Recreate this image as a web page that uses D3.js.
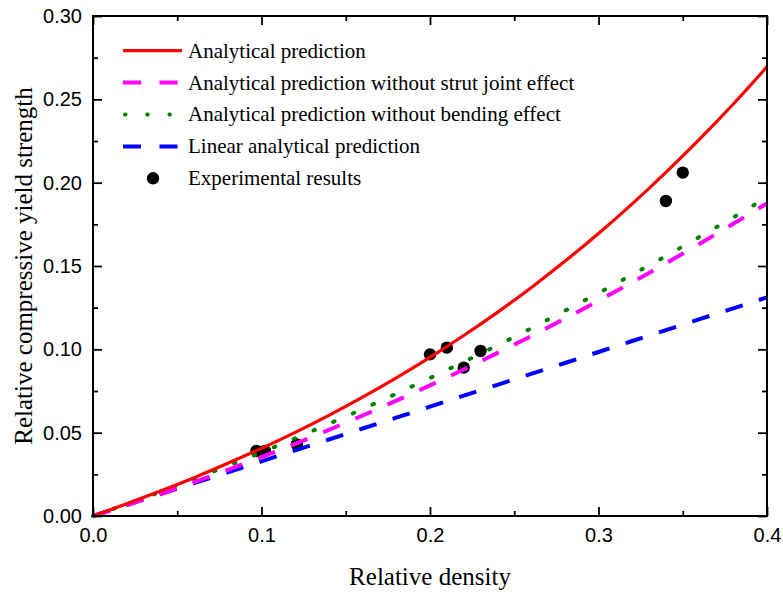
<!DOCTYPE html>
<html>
<head>
<meta charset="utf-8">
<script src="https://cdn.jsdelivr.net/npm/d3@7"></script>
<style>
  body { margin: 0; background: #fff; }
  svg { display: block; }
</style>
</head>
<body>
<svg id="chart" width="783" height="595"></svg>
<script>
// relative density sampled along each curve
const densities = [0, 0.02, 0.04, 0.06, 0.08, 0.10, 0.12, 0.14, 0.16, 0.18, 0.20,
                   0.22, 0.24, 0.26, 0.28, 0.30, 0.32, 0.34, 0.36, 0.38, 0.40];

const analytical = [0, 0.0073, 0.0150, 0.0230, 0.0316, 0.0406, 0.0502, 0.0604, 0.0713, 0.0829, 0.0952,
                    0.1083, 0.1222, 0.1370, 0.1528, 0.1695, 0.1873, 0.2062, 0.2261, 0.2472, 0.2696];
const noJoint = [0, 0.0065, 0.0132, 0.0203, 0.0277, 0.0354, 0.0433, 0.0517, 0.0603, 0.0692, 0.0784,
                 0.0879, 0.0978, 0.1079, 0.1184, 0.1292, 0.1402, 0.1516, 0.1633, 0.1753, 0.1876];
const noBending = [0, 0.0071, 0.0145, 0.0222, 0.0301, 0.0382, 0.0466, 0.0553, 0.0642, 0.0734, 0.0828,
                   0.0925, 0.1024, 0.1126, 0.1231, 0.1338, 0.1448, 0.1560, 0.1675, 0.1792, 0.1912];
const linear = [0, 0.0066, 0.0131, 0.0197, 0.0262, 0.0328, 0.0394, 0.0459, 0.0525, 0.0590, 0.0656,
                0.0722, 0.0787, 0.0853, 0.0918, 0.0984, 0.1050, 0.1115, 0.1181, 0.1246, 0.1312];

// experimental points
const expDensity = [0.097, 0.102, 0.121, 0.200, 0.210, 0.220, 0.230, 0.340, 0.350];
const expStrength = [0.039, 0.039, 0.043, 0.097, 0.101, 0.089, 0.099, 0.189, 0.206];

const xTicks = [0, 0.1, 0.2, 0.3, 0.4];
const yTicks = [0, 0.05, 0.10, 0.15, 0.20, 0.25, 0.30];

const seriesNames = ["Analytical prediction",
                     "Analytical prediction without strut joint effect",
                     "Analytical prediction without bending effect",
                     "Linear analytical prediction",
                     "Experimental results"];

const plotLeft = 93, plotRight = 767, plotTop = 16, plotBottom = 516;

const svg = d3.select("#chart");

let x = d3.scaleLinear().domain([0, 0.4]).range([plotLeft, plotRight]);
let y = d3.scaleLinear().domain([0, 0.3]).range([plotBottom, plotTop]);

const sansFont = "'Liberation Sans', Arial, sans-serif";
const serifFont = "'Liberation Serif', 'Times New Roman', serif";

// line styles, in the order of the legend
const styles = [
  {data: analytical, color: "#ff0000", dash: null, width: 3.2, cap: "butt"},
  {data: noJoint, color: "#ff00ff", dash: "18,17", width: 4, cap: "butt"},
  {data: noBending, color: "#008000", dash: "1.5,20", width: 4, cap: "round"},
  {data: linear, color: "#0000ff", dash: "18,17", width: 4, cap: "butt"}
];

// experimental dots go underneath the curves
svg.append("g").selectAll("circle")
  .data(expDensity).enter()
  .append("circle")
    .attr("cx", d => x(d))
    .attr("cy", (d, i) => y(expStrength[i]))
    .attr("r", 6.2)
    .attr("fill", "black");

let line = d3.line()
  .x((d, i) => x(densities[i]))
  .y(d => y(d))
  .curve(d3.curveMonotoneX);

// draw blue first so the red curve ends up on top
[3, 2, 1, 0].forEach(k => {
  let s = styles[k];
  svg.append("path")
    .datum(s.data)
    .attr("d", line)
    .attr("fill", "none")
    .attr("stroke", s.color)
    .attr("stroke-width", s.width)
    .attr("stroke-linecap", s.cap)
    .attr("stroke-dasharray", s.dash);
});

// axes: major and minor ticks, all pointing inward
function styleAxis(g) {
  g.select(".domain").remove();
  g.selectAll(".tick line").attr("stroke", "black").attr("stroke-width", 1.8);
  g.selectAll("text")
    .attr("font-family", sansFont)
    .attr("font-size", 20)
    .attr("fill", "black");
}

let minorX = d3.range(0.05, 0.4, 0.1);
let minorY = d3.range(0.025, 0.3, 0.05);

svg.append("g").attr("transform", `translate(0,${plotBottom})`)
  .call(d3.axisBottom(x).tickValues(xTicks).tickFormat(d3.format(".1f"))
    .tickSize(-9).tickSizeOuter(0).tickPadding(12))
  .call(styleAxis);
svg.append("g").attr("transform", `translate(0,${plotBottom})`)
  .call(d3.axisBottom(x).tickValues(minorX).tickFormat("").tickSize(-5).tickSizeOuter(0))
  .call(styleAxis);
svg.append("g").attr("transform", `translate(0,${plotTop})`)
  .call(d3.axisTop(x).tickValues(xTicks).tickFormat("").tickSize(-9).tickSizeOuter(0))
  .call(styleAxis);
svg.append("g").attr("transform", `translate(0,${plotTop})`)
  .call(d3.axisTop(x).tickValues(minorX).tickFormat("").tickSize(-5).tickSizeOuter(0))
  .call(styleAxis);

svg.append("g").attr("transform", `translate(${plotLeft},0)`)
  .call(d3.axisLeft(y).tickValues(yTicks).tickFormat(d3.format(".2f"))
    .tickSize(-9).tickSizeOuter(0).tickPadding(11))
  .call(styleAxis);
svg.append("g").attr("transform", `translate(${plotLeft},0)`)
  .call(d3.axisLeft(y).tickValues(minorY).tickFormat("").tickSize(-5).tickSizeOuter(0))
  .call(styleAxis);
svg.append("g").attr("transform", `translate(${plotRight},0)`)
  .call(d3.axisRight(y).tickValues(yTicks).tickFormat("").tickSize(-9).tickSizeOuter(0))
  .call(styleAxis);
svg.append("g").attr("transform", `translate(${plotRight},0)`)
  .call(d3.axisRight(y).tickValues(minorY).tickFormat("").tickSize(-5).tickSizeOuter(0))
  .call(styleAxis);

// frame
svg.append("rect")
  .attr("x", plotLeft).attr("y", plotTop)
  .attr("width", plotRight - plotLeft).attr("height", plotBottom - plotTop)
  .attr("fill", "none")
  .attr("stroke", "black")
  .attr("stroke-width", 2);

// axis titles
svg.append("text")
  .attr("x", (plotLeft + plotRight) / 2).attr("y", 585)
  .attr("text-anchor", "middle")
  .attr("font-family", serifFont).attr("font-size", 25)
  .text("Relative density");

svg.append("text")
  .attr("transform", `translate(32,${(plotTop + plotBottom) / 2}) rotate(-90)`)
  .attr("text-anchor", "middle")
  .attr("font-family", serifFont).attr("font-size", 25)
  .text("Relative compressive yield strength");

// legend
let legend = svg.append("g");
let rowY = i => 50.7 + i * 31.9;

styles.forEach((s, i) => {
  legend.append("line")
    .attr("x1", 123).attr("x2", 182)
    .attr("y1", rowY(i)).attr("y2", rowY(i))
    .attr("stroke", s.color)
    .attr("stroke-width", s.width)
    .attr("stroke-linecap", s.cap)
    .attr("stroke-dasharray", s.dash ? (i == 2 ? "0.5,21.7" : "18,18.5") : null)
    .attr("stroke-dashoffset", i == 2 ? -2 : 0);
});
legend.append("circle")
  .attr("cx", 153).attr("cy", rowY(4)).attr("r", 6.2).attr("fill", "black");

legend.selectAll("text")
  .data(seriesNames).enter()
  .append("text")
    .attr("x", 188)
    .attr("y", (d, i) => rowY(i))
    .attr("dy", "0.33em")
    .attr("font-family", serifFont)
    .attr("font-size", 21)
    .text(d => d);
</script>
</body>
</html>
